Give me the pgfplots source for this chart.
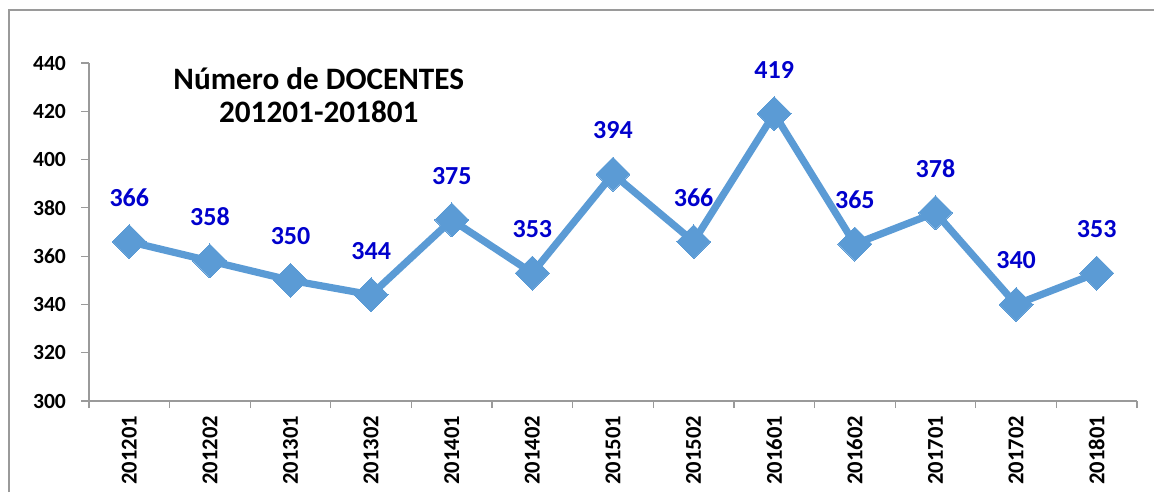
\documentclass[border=0pt]{standalone}
\usepackage{fontspec}
\setmainfont{Carlito}
\usepackage{pgfplots}
\pgfplotsset{compat=1.18}
\definecolor{linecol}{HTML}{5B9BD5}
\definecolor{labcol}{HTML}{0000CC}
\definecolor{axcol}{HTML}{9A9A9A}
\begin{document}
\begin{tikzpicture}
\path[use as bounding box] (0,0) rectangle (577pt,246pt);
\draw[axcol, line width=0.8pt] (4.5pt,0) -- (4.5pt,241pt) -- (577pt,241pt);
\begin{axis}[
  at={(44.5pt,45.5pt)}, anchor=south west,
  scale only axis, width=524pt, height=169pt,
  xmin=-0.5, xmax=12.5, ymin=300, ymax=440,
  ytick={300,320,...,440},
  xtick={0,...,12},
  xticklabels={201201,201202,201301,201302,201401,201402,201501,201502,201601,201602,201701,201702,201801},
  minor xtick={-0.5,0.5,...,12.5},
  major x tick style={draw=none},
  minor tick length=3.5pt, major tick length=4pt,
  tick align=outside,
  axis x line*=bottom, axis y line*=left,
  axis line style={axcol, line width=0.6pt},
  every tick/.style={axcol, line width=0.6pt},
  tick style={axcol, line width=0.6pt},
  /pgf/number format/assume math mode=true,
  ticklabel style={text=black},
  xticklabel style={font=\fontsize{11.3}{13}\selectfont\bfseries, rotate=90, anchor=east},
  yticklabel style={font=\fontsize{10.8}{13}\selectfont\bfseries, xshift=-4pt},
  xtick pos=bottom, ytick pos=left,
  clip=false,
  nodes near coords,
  every node near coord/.append style={font=\fontsize{13}{15}\selectfont\bfseries, text=labcol, anchor=center, yshift=22pt},
]
\addplot[linecol, line width=3.6pt, mark=square*, mark size=6pt, mark options={rotate=45, fill=linecol, draw=linecol, line width=0pt}]
coordinates {(0,366) (1,358) (2,350) (3,344) (4,375) (5,353) (6,394) (7,366) (8,419) (9,365) (10,378) (11,340) (12,353)};
\node[font=\fontsize{15.6}{16.5}\selectfont\bfseries, align=center, text=black] at (axis cs:2.35,426.8) {Número de DOCENTES\\201201-201801};
\end{axis}
\end{tikzpicture}
\end{document}
